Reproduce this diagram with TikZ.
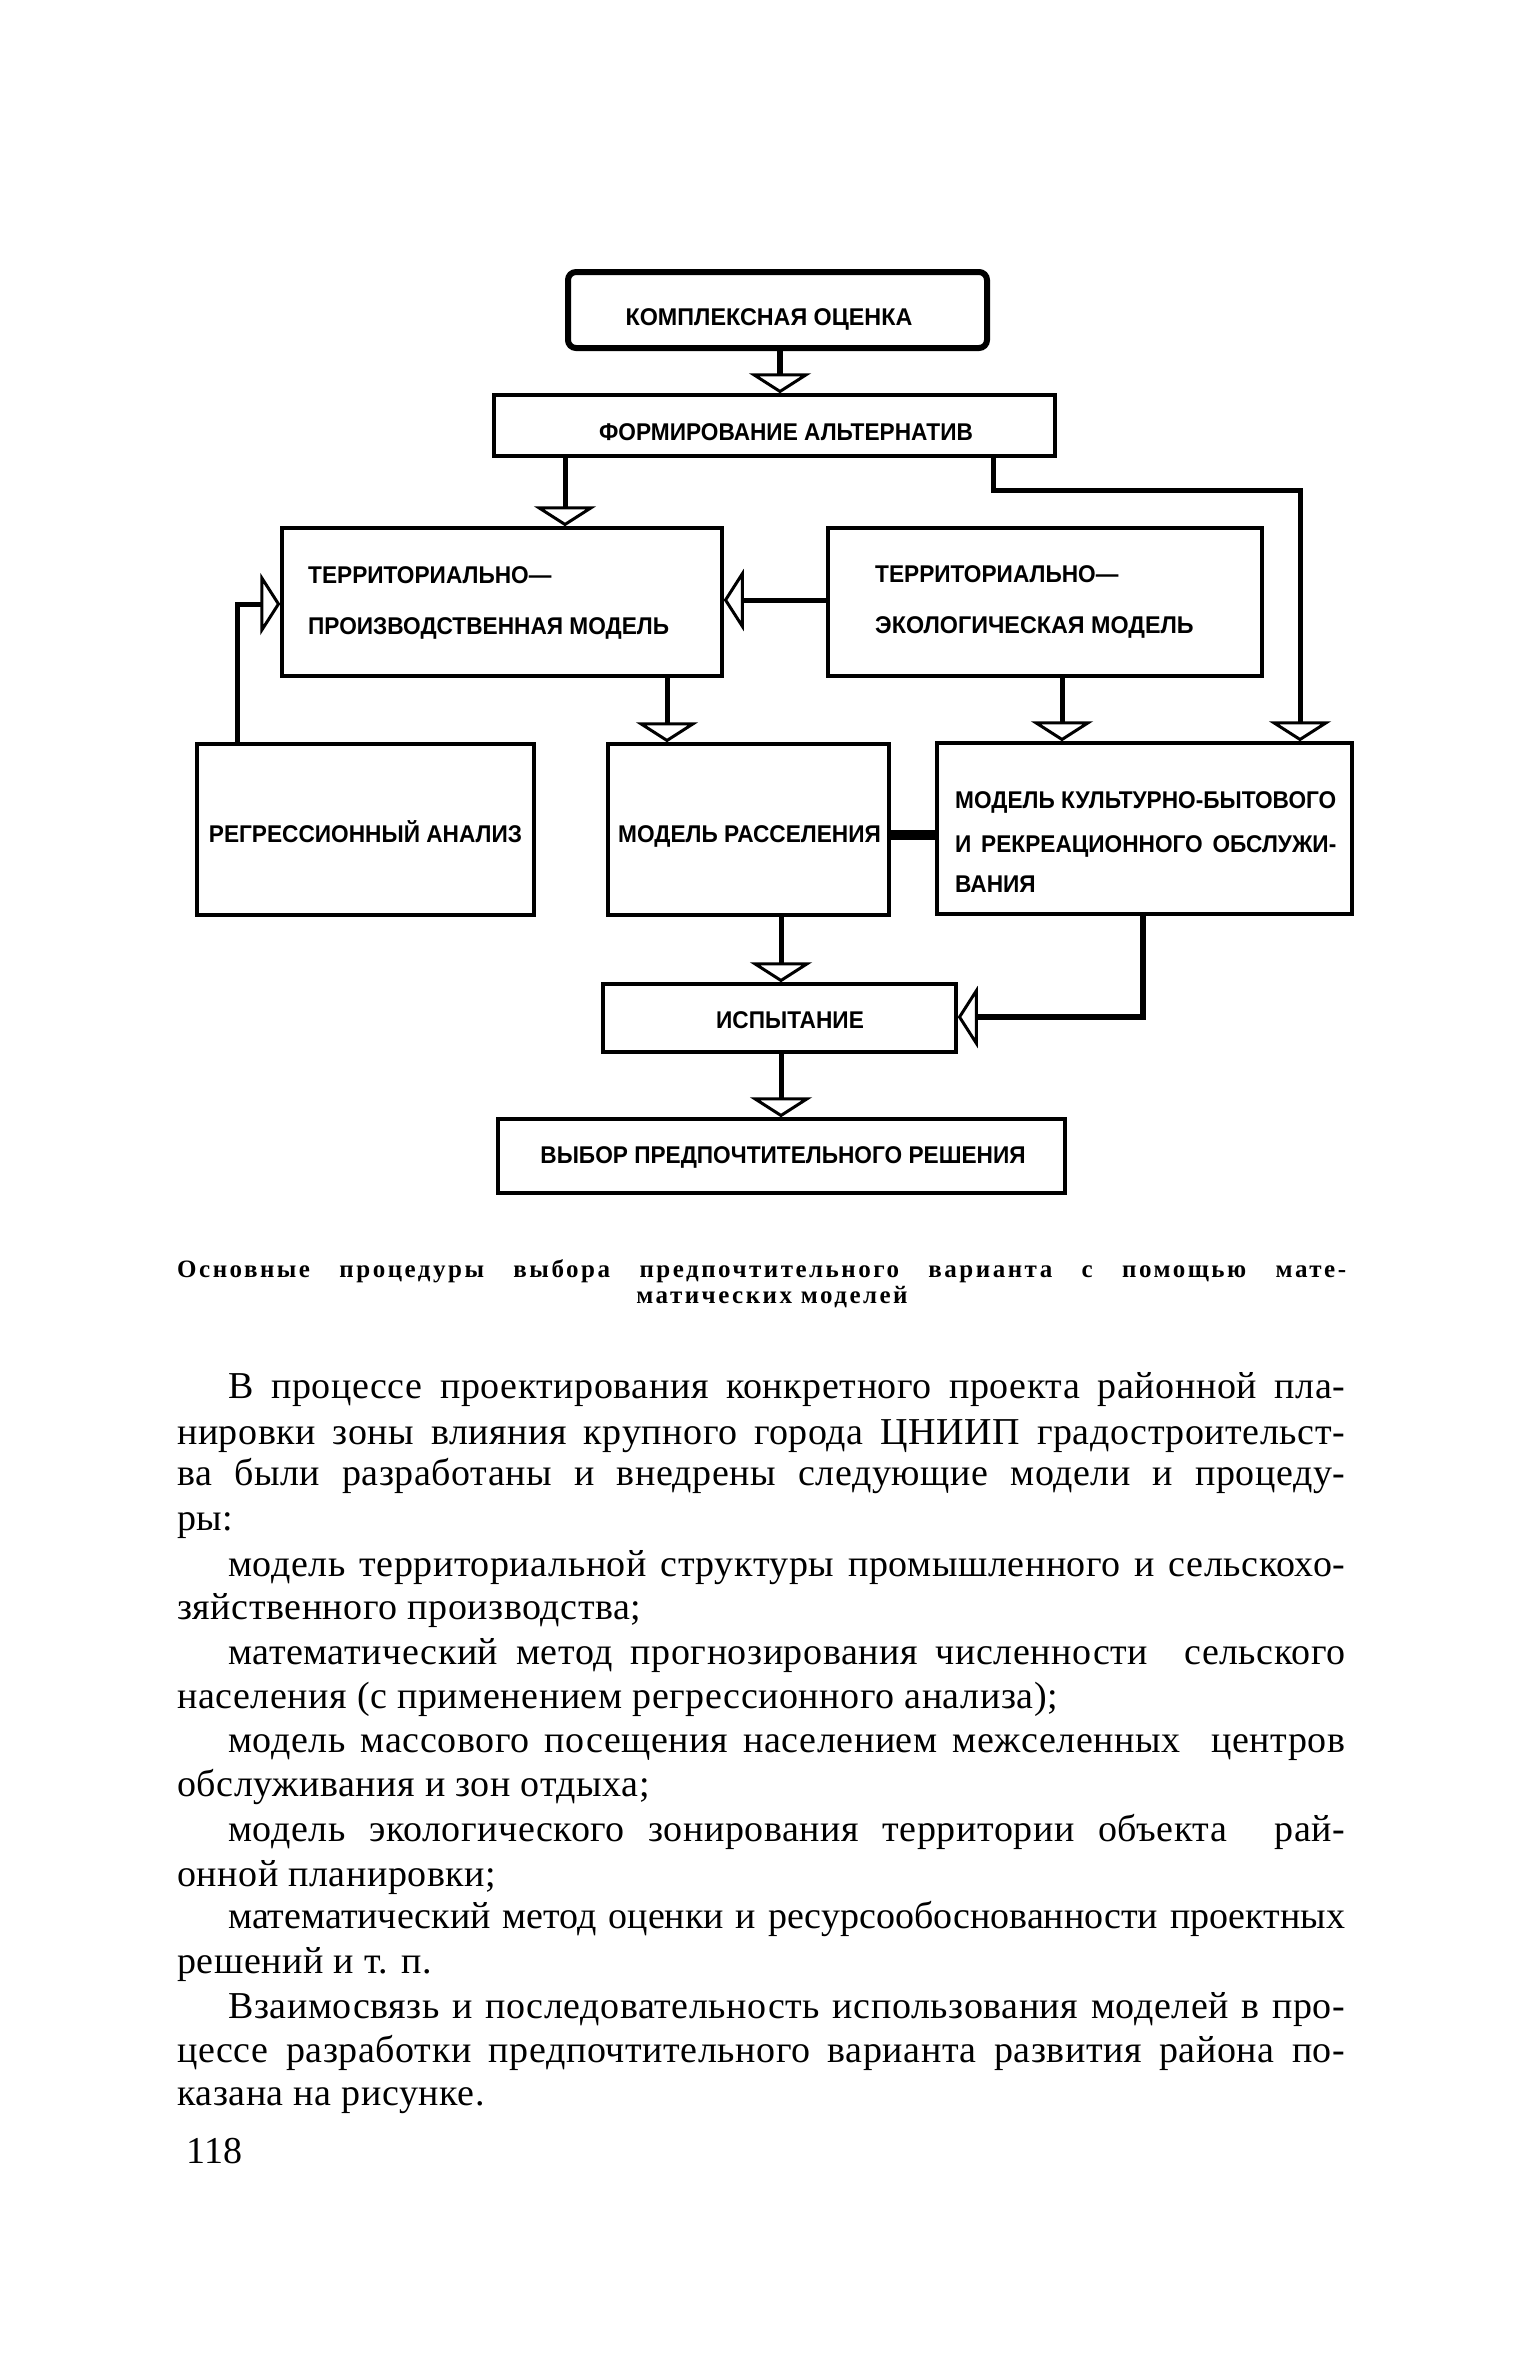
\documentclass[tikz,border=0pt]{standalone}
\usepackage{fontspec}
\usepackage{graphicx}
\setmainfont{Liberation Serif}[LetterSpace=1.5]
\newfontfamily\dgfont{Liberation Sans}
\newfontfamily\capfont{Liberation Serif}[LetterSpace=10]
\newcommand\vstr[1]{\scalebox{1.03}[1.1]{#1}}
\usetikzlibrary{arrows.meta}
\begin{document}
\begin{tikzpicture}[x=1pt,y=-1pt,
  box/.style={draw, line width=3.5pt, inner sep=0pt, rectangle},
  lbl/.style={inner sep=0pt, font=\dgfont\bfseries\fontsize{22}{26}\selectfont},
  body/.style={inner sep=0pt, anchor=base west, font=\fontsize{38}{44}\selectfont},
  captn/.style={inner sep=0pt, font=\capfont\bfseries\fontsize{25}{29}\selectfont},
  con/.style={line width=5pt},
  tipv/.style={-{Triangle[open, length=20pt, width=62pt, line width=3pt]}},
  tiph/.style={-{Triangle[open, length=20pt, width=62pt, line width=3pt]}},
]
\useasboundingbox[fill=white] (0,0) rectangle (1535,2362);

% boxes
\node[box, line width=6pt, rounded corners=8pt, minimum width=419pt, minimum height=76pt] (b1) at (777.5,310) {};
\node[box, minimum width=561pt, minimum height=61pt] (b2) at (774.5,425.5) {};
\node[box, minimum width=440pt, minimum height=148pt] (b3) at (502,602) {};
\node[box, minimum width=434pt, minimum height=148pt] (b4) at (1045,602) {};
\node[box, minimum width=337pt, minimum height=171pt] (b5) at (365.5,829.5) {};
\node[box, minimum width=281pt, minimum height=171pt] (b6) at (748.5,829.5) {};
\node[box, minimum width=415pt, minimum height=171pt] (b7) at (1144.5,828.5) {};
\node[box, minimum width=353pt, minimum height=68pt] (b8) at (779.5,1018) {};
\node[box, minimum width=567pt, minimum height=74pt] (b9) at (781.5,1156) {};

% box texts
\node[lbl, anchor=base] (t1) at (769,325) {\scalebox{1.06}[1.1]{КОМПЛЕКСНАЯ ОЦЕНКА}};
\node[lbl, anchor=base] (t2) at (786,440) {\vstr{ФОРМИРОВАНИЕ АЛЬТЕРНАТИВ}};
\node[lbl, anchor=base west] (t3a) at (308,583) {\vstr{ТЕРРИТОРИАЛЬНО—}};
\node[lbl, anchor=base west] (t3b) at (308,634) {\vstr{ПРОИЗВОДСТВЕННАЯ МОДЕЛЬ}};
\node[lbl, anchor=base west] (t4a) at (875,582) {\vstr{ТЕРРИТОРИАЛЬНО—}};
\node[lbl, anchor=base west] (t4b) at (875,633) {\scalebox{1.06}[1.1]{ЭКОЛОГИЧЕСКАЯ МОДЕЛЬ}};
\node[lbl, anchor=base] (t5) at (365.5,842) {\vstr{РЕГРЕССИОННЫЙ АНАЛИЗ}};
\node[lbl, anchor=base] (t6) at (749.5,842) {\vstr{МОДЕЛЬ РАССЕЛЕНИЯ}};
\node[lbl, anchor=base west] (t7a) at (955,808) {\vstr{\makebox[370pt][s]{МОДЕЛЬ КУЛЬТУРНО-БЫТОВОГО}}};
\node[lbl, anchor=base west] (t7b) at (955,852) {\vstr{\makebox[370pt][s]{И РЕКРЕАЦИОННОГО ОБСЛУЖИ-}}};
\node[lbl, anchor=base west] (t7c) at (955,892) {\vstr{ВАНИЯ}};
\node[lbl, anchor=base] (t8) at (790,1028) {\vstr{ИСПЫТАНИЕ}};
\node[lbl, anchor=base] (t9) at (783,1163) {\vstr{ВЫБОР ПРЕДПОЧТИТЕЛЬНОГО РЕШЕНИЯ}};

% helper coordinates
\coordinate (x780) at (780,0);
\coordinate (x565) at (565,0);
\coordinate (x993) at (993,0);
\coordinate (r1) at (1300,490);
\coordinate (y600) at (0,600);
\coordinate (x237) at (237,0);
\coordinate (y604) at (0,604);
\coordinate (x667) at (667,0);
\coordinate (x1062) at (1062,0);
\coordinate (y835) at (0,835);
\coordinate (x781) at (781,0);
\coordinate (x1143) at (1143,0);
\coordinate (y1017) at (0,1017);

% connectors
\draw[con, line width=6pt, tipv] (b1.south -| x780) -- (b2.north -| x780);
\draw[con, tipv] (b2.south -| x565) -- (b3.north -| x565);
\draw[con, tipv] (b2.south -| x993) |- (r1) -- (b7.north -| r1);
\draw[con, tiph] (b4.west |- y600) -- (b3.east |- y600);
\draw[con, tiph] (b5.north -| x237) |- (b3.west |- y604);
\draw[con, tipv] (b3.south -| x667) -- (b6.north -| x667);
\draw[con, tipv] (b4.south -| x1062) -- (b7.north -| x1062);
\draw[line width=10pt] (b6.east |- y835) -- (b7.west |- y835);
\draw[con, tipv] (b6.south -| x781) -- (b8.north -| x781);
\draw[con, line width=6pt, tiph] (b7.south -| x1143) |- (b8.east |- y1017);
\draw[con, tipv] (b8.south -| x781) -- (b9.north -| x781);

% caption
\node[captn, anchor=base west] (c1) at (177,1277) {\makebox[1169pt][s]{Основные процедуры выбора предпочтительного варианта с помощью мате-}};
\node[captn, anchor=base] (c2) at (772,1303) {матических моделей};

% body text
\node[body] (l1) at (228,1398) {\makebox[1117pt][s]{В процессе проектирования конкретного проекта районной пла-}};
\node[body] (l2) at (177,1444) {\makebox[1168pt][s]{нировки зоны влияния крупного города ЦНИИП градостроительст-}};
\node[body] (l3) at (177,1485) {\makebox[1168pt][s]{ва были разработаны и внедрены следующие модели и процеду-}};
\node[body] (l4) at (177,1530) {ры:};
\node[body] (l5) at (228,1576) {\makebox[1117pt][s]{модель территориальной структуры промышленного и сельскохо-}};
\node[body] (l6) at (177,1619) {зяйственного производства;};
\node[body] (l7) at (228,1664) {\makebox[1117pt][s]{математический метод прогнозирования численности \ сельского}};
\node[body] (l8) at (177,1708) {населения (с применением регрессионного анализа);};
\node[body] (l9) at (228,1752) {\makebox[1117pt][s]{модель массового посещения населением межселенных \ центров}};
\node[body] (l10) at (177,1796) {обслуживания и зон отдыха;};
\node[body] (l11) at (228,1841) {\makebox[1117pt][s]{модель экологического зонирования территории объекта \ рай-}};
\node[body] (l12) at (177,1886) {онной планировки;};
\node[body] (l13) at (228,1928) {\addfontfeatures{LetterSpace=0}\makebox[1117pt][s]{математический метод оценки и ресурсообоснованности проектных}};
\node[body] (l14) at (177,1973) {решений и т. п.};
\node[body] (l15) at (228,2018) {\makebox[1117pt][s]{Взаимосвязь и последовательность использования моделей в про-}};
\node[body] (l16) at (177,2062) {\makebox[1168pt][s]{цессе разработки предпочтительного варианта развития района по-}};
\node[body] (l17) at (177,2105) {казана на рисунке.};
\node[body] (pg) at (186,2163) {118};
\end{tikzpicture}
\end{document}
